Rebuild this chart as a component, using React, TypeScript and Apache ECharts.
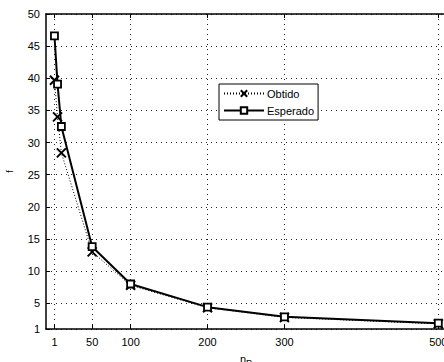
import React, { useEffect, useRef } from "react";
import * as echarts from "echarts";

const xValues = [1, 5, 10, 50, 100, 200, 300, 500];
const obtido = [39.7, 34.0, 28.4, 13.0, 7.8, 4.3, 2.8, 1.8];
const esperado = [46.6, 39.1, 32.5, 13.8, 8.0, 4.4, 2.9, 1.9];
const xTicks = [1, 50, 100, 200, 300, 500];
const yTicks = [1, 5, 10, 15, 20, 25, 30, 35, 40, 45, 50];

const FONT = "Liberation Sans, Arial, Helvetica, sans-serif";

export default function App() {
  const ref = useRef<HTMLDivElement>(null);
  useEffect(() => {
    if (!ref.current) return;
    const chart = echarts.init(ref.current, null, { renderer: "svg" });
    const dotted = { show: true, lineStyle: { color: "#222", type: [1, 4] as any, width: 1 } };
    chart.setOption({
      animation: false,
      backgroundColor: "#fff",
      textStyle: { fontFamily: FONT },
      grid: { left: 46, top: 14, right: -2, bottom: 33, outerBoundsMode: "none", containLabel: false },
      legend: {
        orient: "vertical",
        left: 219,
        top: 84,
        width: 100,
        backgroundColor: "#fff",
        borderColor: "#000",
        borderWidth: 1,
        borderRadius: 0,
        padding: [4, 4, 4, 4],
        itemWidth: 40,
        itemHeight: 8,
        itemGap: 6,
        textStyle: { fontFamily: FONT, fontSize: 11, color: "#000", padding: [0, 0, 0, -2] },
        data: ["Obtido", "Esperado"],
      },
      xAxis: [
        {
          type: "value",
          min: -10,
          max: 510,
          name: "{a|n}{b|P}",
          nameLocation: "middle",
          nameGap: 21,
          nameTextStyle: {
            rich: {
              a: { fontSize: 11, fontFamily: FONT, color: "#000" },
              b: { fontSize: 9, fontFamily: FONT, color: "#000", padding: [8, 0, 0, 0] },
            },
          },
          axisLine: { show: true, onZero: false, lineStyle: { color: "#000", width: 1.5 } },
          axisTick: { show: true, inside: true, length: 4, customValues: xTicks, lineStyle: { color: "#000" } },
          axisLabel: { customValues: xTicks, fontSize: 11, color: "#000", fontFamily: FONT, margin: 7 },
          splitLine: dotted,
        },
        {
          type: "value",
          position: "top",
          min: -10,
          max: 510,
          axisLine: { show: true, onZero: false, lineStyle: { color: "#000", width: 1.5 } },
          axisTick: { show: true, inside: true, length: 4, customValues: xTicks, lineStyle: { color: "#000" } },
          axisLabel: { show: false },
          splitLine: { show: false },
        },
      ],
      yAxis: {
        type: "value",
        min: 1,
        max: 50,
        name: "f",
        nameLocation: "middle",
        nameGap: 32,
        nameRotate: 90,
        nameTextStyle: { fontSize: 9, color: "#000", fontFamily: FONT },
        axisLine: { show: true, onZero: false, lineStyle: { color: "#000", width: 1.5 } },
        axisTick: { show: true, inside: true, length: 4, customValues: yTicks, lineStyle: { color: "#000" } },
        axisLabel: { customValues: yTicks, fontSize: 11, color: "#000", fontFamily: FONT, margin: 6 },
        splitLine: dotted,
      },
      series: [
        {
          name: "Obtido",
          type: "line",
          data: xValues.map((x, i) => [x, obtido[i]]),
          symbol: "path://M0,0L10,10M10,0L0,10",
          symbolSize: 9,
          showAllSymbol: true,
          lineStyle: { color: "#000", width: 1, type: [1, 2] as any },
          itemStyle: { color: "#000", borderColor: "#000", borderWidth: 2 },
          z: 3,
        },
        {
          name: "Esperado",
          type: "line",
          data: xValues.map((x, i) => [x, esperado[i]]),
          symbol: "rect",
          symbolSize: 7,
          showAllSymbol: true,
          lineStyle: { color: "#000", width: 2 },
          itemStyle: { color: "#fff", borderColor: "#000", borderWidth: 1.8 },
          z: 4,
        },
      ],
    });
    return () => chart.dispose();
  }, []);
  return <div ref={ref} style={{ width: 444, height: 362, position: "absolute", left: 0, top: 0 }} />;
}
